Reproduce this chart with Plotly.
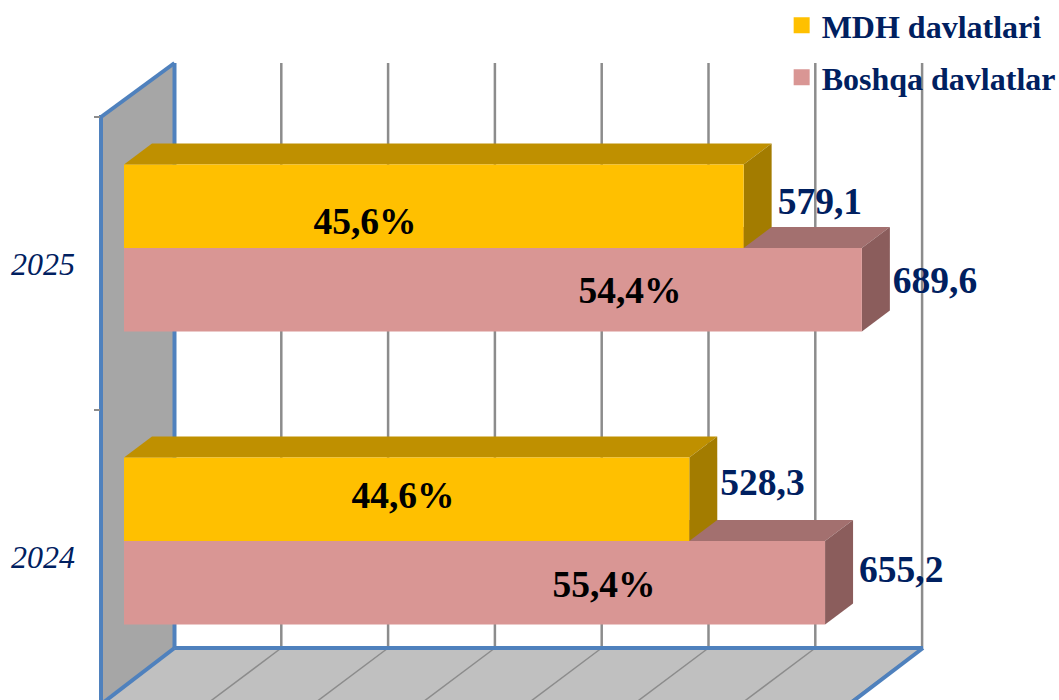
import plotly.graph_objects as go

# ---- data
years = [2024, 2025]
mdh_values = [528.3, 579.1]
other_values = [655.2, 689.6]
mdh_share = ["44,6%", "45,6%"]
other_share = ["55,4%", "54,4%"]
mdh_name = "MDH davlatlari"
other_name = "Boshqa davlatlar"

# ---- geometry / style
W, H = 1059, 700
PLOT_LEFT = 101
X0_PX, PX_PER_UNIT = 124, 1.07      # pixel of value 0, pixels per unit
Y0_PX, PX_PER_CAT = 541, 293        # pixel of category 0, pixels per category
BAR_W = 0.285
DEPTH_X = 28 / PX_PER_UNIT
DEPTH_Y = 21 / PX_PER_CAT
GOLD, GOLD_TOP, GOLD_SIDE = "#FFC000", "#BF9000", "#A37C00"
PINK, PINK_TOP, PINK_SIDE = "#D99694", "#A3706F", "#8B5D5C"
NAVY = "#002060"
BLUE = "#4F81BD"
GRID = "#8C8C8C"
SERIF = "Liberation Serif"
WALL_X = 174.5

xr = [(PLOT_LEFT - X0_PX) / PX_PER_UNIT, (W - X0_PX) / PX_PER_UNIT]
yr = [(Y0_PX - H) / PX_PER_CAT, Y0_PX / PX_PER_CAT]


def px(x):
    return (x - PLOT_LEFT) / (W - PLOT_LEFT)


def py(y):
    return 1 - y / H


def poly(points, fill, ref="paper", line=None, width=0):
    path = "M" + " L".join(f"{a},{b}" for a, b in points) + " Z"
    return dict(type="path", path=path, xref=ref if ref == "paper" else "x",
                yref=ref if ref == "paper" else "y", layer="below", fillcolor=fill,
                line=dict(color=line or "rgba(0,0,0,0)", width=width))


def seg(x1, y1, x2, y2, color, width):
    return dict(type="line", xref="paper", yref="paper", layer="below",
                x0=px(x1), y0=py(y1), x1=px(x2), y1=py(y2),
                line=dict(color=color, width=width))


shapes = []
# floor and left wall
shapes.append(poly([(px(a), py(b)) for a, b in [(WALL_X, 648), (923, 648), (852, 702), (101, 702)]], "#C0C0C0"))
shapes.append(poly([(px(a), py(b)) for a, b in [(101, 117), (WALL_X, 63), (WALL_X, 648), (101, 702)]], "#A6A6A6"))
# back wall and floor grid
for k in range(1, 8):
    xb = WALL_X + k * 106.8
    shapes.append(seg(xb, 63, xb, 648, GRID, 2.5))
    shapes.append(seg(xb, 648, xb - 72, 702, GRID, 1.5))
# frame
for a in [(101, 117, WALL_X, 63), (WALL_X, 63, WALL_X, 648), (101, 115, 101, 702),
          (WALL_X, 648, 923, 648), (WALL_X, 648, 104, 702), (923, 648, 852, 702)]:
    shapes.append(seg(*a, BLUE, 4))
# 3D faces of the bars, other series first so the gold side lies over it
for cat, (gold, pink) in enumerate(zip(mdh_values, other_values)):
    shapes.append(poly([(0, cat), (DEPTH_X, cat + DEPTH_Y), (pink + DEPTH_X, cat + DEPTH_Y), (pink, cat)],
                       PINK_TOP, "data"))
    shapes.append(poly([(pink, cat), (pink + DEPTH_X, cat + DEPTH_Y),
                        (pink + DEPTH_X, cat - BAR_W + DEPTH_Y), (pink, cat - BAR_W)], PINK_SIDE, "data"))
    shapes.append(poly([(0, cat + BAR_W), (DEPTH_X, cat + BAR_W + DEPTH_Y),
                        (gold + DEPTH_X, cat + BAR_W + DEPTH_Y), (gold, cat + BAR_W)], GOLD_TOP, "data"))
    shapes.append(poly([(gold, cat + BAR_W), (gold + DEPTH_X, cat + BAR_W + DEPTH_Y),
                        (gold + DEPTH_X, cat + DEPTH_Y), (gold, cat)], GOLD_SIDE, "data"))

cats = list(range(len(years)))
fig = go.Figure()
fig.add_trace(go.Bar(y=cats, x=other_values, orientation="h", width=BAR_W, offset=-BAR_W,
                     marker=dict(color=PINK, line=dict(width=0)), showlegend=False, hoverinfo="x"))
fig.add_trace(go.Bar(y=cats, x=mdh_values, orientation="h", width=BAR_W, offset=0,
                     marker=dict(color=GOLD, line=dict(width=0)), showlegend=False, hoverinfo="x"))

# legend entries (square swatches), one legend box each to get the wide row spacing
for name, color, lg in [(mdh_name, GOLD, "legend"), (other_name, PINK, "legend2")]:
    fig.add_trace(go.Scatter(x=[None], y=[None], mode="markers", name=name, legend=lg,
                             marker=dict(symbol="square", size=16, color=color)))

# value labels to the right of the bars, share labels on the bars (offsets in pixels)
value_dx = [[31, 34], [34, 31]]          # [mdh, other] per category
value_dy = [[-13.5, -1.5], [-10.5, -6.5]]
share_x = [[403, 365], [604, 630]]
share_y = [[-42.5, -23.5], [46.5, 45.5]]
for s, (vals, shares) in enumerate([(mdh_values, mdh_share), (other_values, other_share)]):
    fig.add_trace(go.Scatter(
        x=[v + value_dx[s][c] / PX_PER_UNIT for c, v in enumerate(vals)],
        y=[c + (-BAR_W / 2 if s else BAR_W / 2) - value_dy[s][c] / PX_PER_CAT for c in cats],
        mode="text", text=[f"{v:.1f}".replace(".", ",") for v in vals], textposition="middle right",
        textfont=dict(family=SERIF, size=37.5, color=NAVY, weight="bold"),
        showlegend=False, hoverinfo="skip"))
    fig.add_trace(go.Scatter(
        x=[(p - X0_PX) / PX_PER_UNIT for p in share_x[s]],
        y=[c - share_y[s][c] / PX_PER_CAT for c in cats],
        mode="text", text=shares, textposition="middle center",
        textfont=dict(family=SERIF, size=37.5, color="black", weight="bold"),
        showlegend=False, hoverinfo="skip"))

legend_font = dict(family=SERIF, size=32, color=NAVY, weight="bold")
fig.update_layout(
    width=W, height=H, margin=dict(l=PLOT_LEFT, r=0, t=0, b=0, autoexpand=False),
    paper_bgcolor="white", plot_bgcolor="rgba(0,0,0,0)", barmode="overlay",
    shapes=shapes,
    legend=dict(x=0.7105, y=1.003, xanchor="left", yanchor="top",
                bgcolor="rgba(0,0,0,0)", font=legend_font),
    legend2=dict(x=0.7105, y=0.9287, xanchor="left", yanchor="top",
                 bgcolor="rgba(0,0,0,0)", font=legend_font),
    xaxis=dict(range=xr, visible=False, fixedrange=True),
    yaxis=dict(range=yr, fixedrange=True, showgrid=False, zeroline=False, showline=False,
               tickmode="array",
               tickvals=[(Y0_PX - 557) / PX_PER_CAT, (Y0_PX - 264) / PX_PER_CAT],
               ticktext=[str(y) for y in years], ticks="", ticklabelstandoff=25,
               tickfont=dict(family=SERIF, size=32, color=NAVY, style="italic"),
               minor=dict(tickmode="array",
                          tickvals=[(Y0_PX - 117) / PX_PER_CAT, (Y0_PX - 410) / PX_PER_CAT],
                          ticks="outside", ticklen=6, tickcolor=GRID, tickwidth=1.5, showgrid=False)),
)
fig.write_html("out.html", post_script="document.body.style.margin='0';",
               config=dict(displayModeBar=False))
